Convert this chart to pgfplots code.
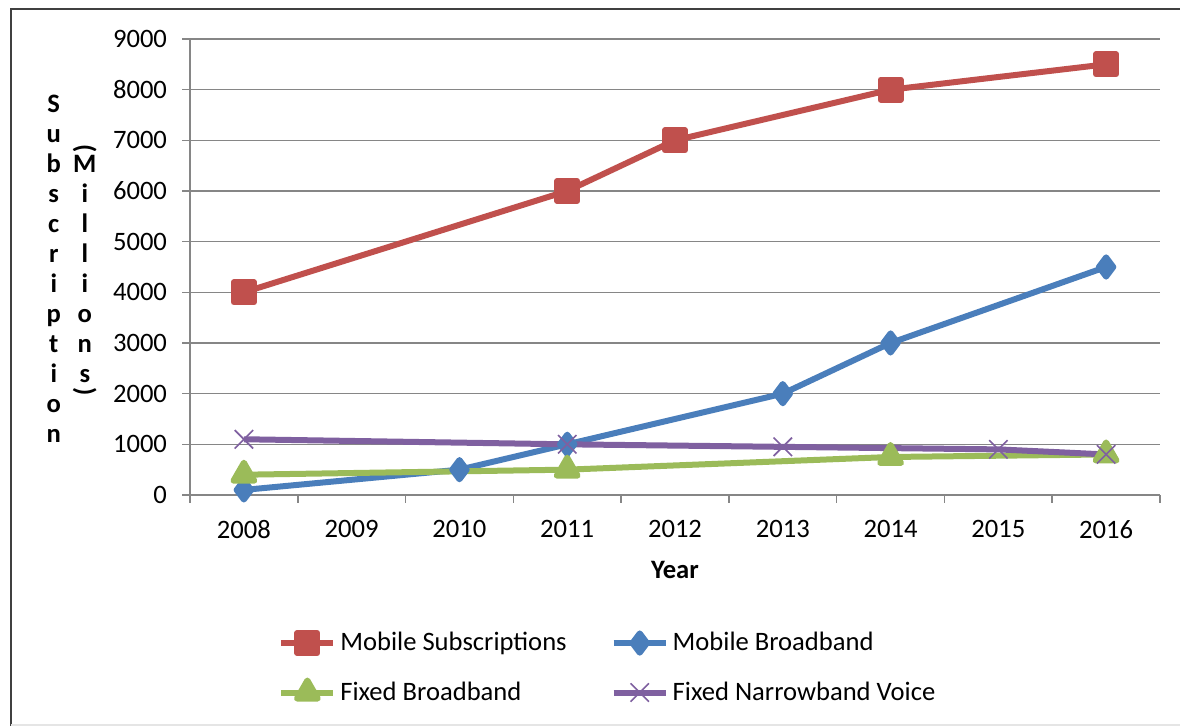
\documentclass[border=0pt]{standalone}
\usepackage{fontspec}
\setmainfont{Carlito}
\usepackage{graphicx}
\usepackage{pgfplots}
\pgfplotsset{compat=1.18}

\definecolor{gridgray}{HTML}{868686}
\definecolor{msred}{HTML}{C0504D}
\definecolor{mbblue}{HTML}{4A7EBB}
\definecolor{fbgreen}{HTML}{9BBB59}
\definecolor{fnpurple}{HTML}{7F60A0}

\newcommand{\lblfont}{\fontsize{13.3}{15}\selectfont}

\begin{document}
\begin{tikzpicture}
\useasboundingbox (0,0) rectangle (590pt,363pt);
% chart frame (only left, top and bottom edges show)
\draw[black!75, line width=1.2pt] (5.5pt,-2pt) -- (5.5pt,358.5pt) -- (600pt,358.5pt);
\draw[black!10, line width=0.8pt] (5.5pt,0.5pt) -- (600pt,0.5pt);
\begin{axis}[
    at={(95pt,115.5pt)}, anchor=south west,
    scale only axis,
    width=485pt, height=228pt,
    font=\lblfont,
    xmin=2007.5, xmax=2016.5,
    ymin=0, ymax=9000,
    xtick={2007.5,2008.5,...,2016.5},
    x tick label as interval,
    xticklabels={2008,2009,2010,2011,2012,2013,2014,2015,2016},
    ytick={0,1000,...,9000},
    /pgf/number format/1000 sep={},
    /pgf/number format/assume math mode=true,
    axis x line=bottom, axis y line=left,
    axis line style={draw=gridgray, line width=0.8pt, -},
    tick align=outside,
    major tick length=4pt,
    tick style={draw=gridgray, line width=0.8pt},
    ymajorgrids,
    grid style={draw=gridgray, line width=0.8pt},
    yticklabel style={xshift=-4pt},
    xticklabel style={yshift=-5pt},
    xlabel={\bfseries Year},
    xlabel style={at={(axis description cs:0.5,-0.164)}, anchor=center},
    ylabel={\bfseries\renewcommand{\arraystretch}{1}%
      \begin{tabular}{@{}c@{\hspace{6pt}}c@{}}
      S & \\
      u & \raisebox{-7pt}[0pt][0pt]{\rotatebox[origin=c]{-90}{(}}\\
      b & M\\
      s & i\\
      c & l\\
      r & l\\
      i & i\\
      p & o\\
      t & n\\
      i & s\\
      o & \raisebox{6.5pt}[0pt][0pt]{\rotatebox[origin=c]{-90}{)}}\\
      n & \\
      \end{tabular}},
    ylabel style={rotate=-90, at={(axis description cs:-0.122,0.49)}, anchor=center},
    every axis plot/.append style={line width=3pt, line join=round},
    legend columns=2,
    legend cell align=left,
    legend style={draw=none, fill=none, font=\lblfont,
      at={(axis description cs:0.0907,-0.2915)}, anchor=north west,
      inner sep=0pt, row sep=10pt,
      /tikz/every even column/.append style={column sep=20pt}},
    legend image code/.code={%
      \draw[mark repeat=2, mark phase=2] plot coordinates {(0pt,0pt) (13pt,0pt) (26pt,0pt)};},
]
\addplot[msred, mark=square*, mark size=5pt, mark options={solid}] coordinates {
  (2008,4000) (2011,6000) (2012,7000) (2014,8000) (2016,8500)};
\addplot[mbblue, mark=diamond*, mark size=4.8pt, mark options={solid}] coordinates {
  (2008,100) (2010,500) (2011,1000) (2013,2000) (2014,3000) (2016,4500)};
\addplot[fbgreen, mark=triangle*, mark size=6pt, mark options={solid}] coordinates {
  (2008,400) (2011,500) (2014,750) (2016,800)};
\addplot[fnpurple, mark=x, mark size=6.5pt, mark options={solid, line width=0.8pt}] coordinates {
  (2008,1100) (2011,1000) (2013,950) (2015,900) (2016,800)};
\legend{Mobile Subscriptions, Mobile Broadband, Fixed Broadband, Fixed Narrowband Voice}
\end{axis}
\end{tikzpicture}
\end{document}
